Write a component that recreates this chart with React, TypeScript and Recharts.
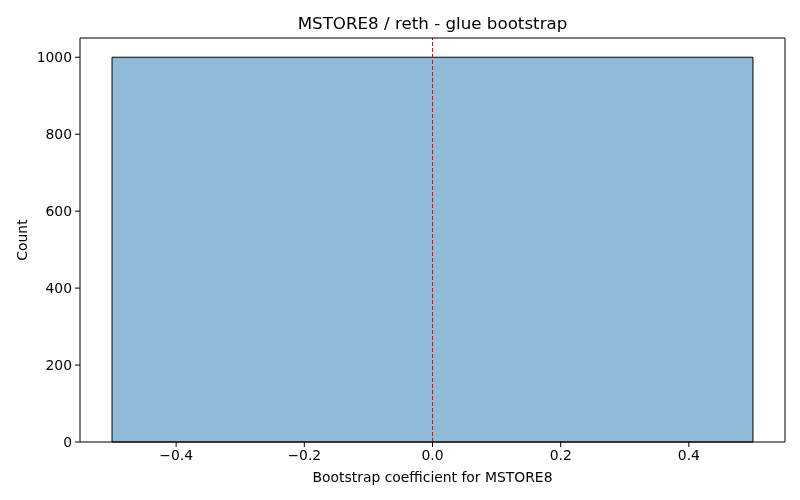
import React from 'react';
import { ComposedChart, XAxis, YAxis, ReferenceArea, ReferenceLine, Scatter, Label } from 'recharts';

// histogram bins: edges and counts
const binEdges = [-0.5, 0.5];
const binCounts = [1000];
const xTicks = [-0.4, -0.2, 0.0, 0.2, 0.4];
const yTicks = [0, 200, 400, 600, 800, 1000];
const xDomain = [-0.55, 0.55];
const yDomain = [0, 1050];
const refX = 0;

const FONT = 'DejaVu Sans, sans-serif';
const FS = 13.9;

const fmtX = (v: number) => v.toFixed(1).replace('-', '\u2212');

const anchor = [{ x: xDomain[0], y: yDomain[0] }];

export default function App() {
  const bins = binCounts.map((c, i) => ({ x1: binEdges[i], x2: binEdges[i + 1], count: c }));
  return (
    <div style={{ position: 'fixed', left: 0, top: 0, width: 800, height: 500, background: '#fff', fontFamily: FONT }}>
      <div style={{ position: 'absolute', left: 0, width: 865, top: 13, textAlign: 'center', fontSize: 16.7, color: '#000' }}>
        MSTORE8 / reth - glue bootstrap
      </div>
      <ComposedChart width={800} height={500} margin={{ top: 38, right: 15, left: 0, bottom: 0 }} data={anchor}>
        <XAxis
          type="number"
          dataKey="x"
          domain={xDomain}
          ticks={xTicks}
          tickFormatter={fmtX}
          height={58}
          allowDataOverflow
          stroke="#000"
          tick={{ fill: '#000', fontSize: FS, fontFamily: FONT }}
          tickSize={5}
          tickMargin={3}
        >
          <Label
            content={(p: any) => (
              <text x={p.viewBox.x + p.viewBox.width / 2} y={p.viewBox.y + 40} textAnchor="middle" fontSize={FS} fontFamily={FONT} fill="#000">
                Bootstrap coefficient for MSTORE8
              </text>
            )}
          />
        </XAxis>
        <YAxis
          type="number"
          dataKey="y"
          domain={yDomain}
          ticks={yTicks}
          width={80}
          allowDataOverflow
          stroke="#000"
          tick={{ fill: '#000', fontSize: FS, fontFamily: FONT }}
          tickSize={5}
          tickMargin={3}
        >
          <Label
            content={(p: any) => {
              const cx = p.viewBox.x + 22;
              const cy = p.viewBox.y + p.viewBox.height / 2;
              return (
                <text x={cx} y={cy} transform={`rotate(-90 ${cx} ${cy})`} textAnchor="middle" dominantBaseline="central" fontSize={FS} fontFamily={FONT} fill="#000">
                  Count
                </text>
              );
            }}
          />
        </YAxis>
        <Scatter dataKey="y" fill="none" isAnimationActive={false} />
        {bins.map((b, i) => (
          <ReferenceArea
            key={i}
            x1={b.x1}
            x2={b.x2}
            y1={0}
            y2={b.count}
            fill="#1f77b4"
            fillOpacity={0.5}
            stroke="#000"
            strokeOpacity={1}
            strokeWidth={1}
          />
        ))}
        <ReferenceLine x={refX} stroke="#ff0000" strokeDasharray="4 2" strokeWidth={1} />
        <ReferenceLine y={yDomain[1]} stroke="#000" />
        <ReferenceLine x={xDomain[1]} stroke="#000" />
      </ComposedChart>
    </div>
  );
}
